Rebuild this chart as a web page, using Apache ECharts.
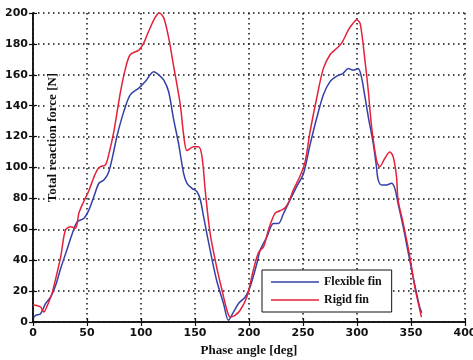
<!DOCTYPE html>
<html>
<head>
<meta charset="utf-8">
<script src="https://cdn.jsdelivr.net/npm/echarts@6/dist/echarts.min.js"></script>
<style>
	html, body { margin: 0; padding: 0; background: #fff; }
	#chart { width: 473px; height: 360px; }
</style>
</head>
<body>
<div id="chart"></div>
<script>
// [phase angle (deg), total reaction force (N)]
const flexibleFin = [
	[ 1, 3 ], [ 2.5, 4.3 ], [ 7, 5.4 ], [ 11.7, 12 ], [ 16.4, 16.2 ], [ 21, 23.8 ], [ 25.6, 34.6 ],
	[ 31.8, 47.6 ], [ 36.4, 57.3 ], [ 41, 64.9 ], [ 47, 67 ], [ 51.7, 72.4 ], [ 56.3, 81 ], [ 61, 89.8 ],
	[ 65.6, 91.9 ], [ 70, 97 ], [ 74, 108 ], [ 78, 121 ], [ 84, 136 ], [ 90, 147 ], [ 98, 151.4 ],
	[ 104, 155.6 ], [ 111.8, 162 ], [ 116.4, 160 ], [ 121, 156.7 ], [ 125.6, 149 ], [ 130, 132 ],
	[ 135, 114.6 ], [ 139.5, 96 ], [ 142.6, 89.8 ], [ 147.2, 86.5 ], [ 151.9, 84.3 ], [ 155, 79 ],
	[ 158, 68 ], [ 164, 46.5 ], [ 170, 27 ], [ 176.4, 12 ], [ 181, 1.1 ], [ 185.7, 6.5 ], [ 190.3, 12 ],
	[ 196.5, 16.2 ], [ 201, 22.7 ], [ 207.3, 37.9 ], [ 210.3, 46.5 ], [ 216.5, 55 ], [ 222.6, 63.8 ],
	[ 227.3, 63.8 ], [ 232, 70.3 ], [ 236.5, 76.8 ], [ 244, 87.5 ], [ 250.4, 96 ], [ 256.5, 114.6 ],
	[ 262.7, 132 ], [ 268.8, 147 ], [ 275, 155.6 ], [ 281, 159 ], [ 287, 161 ], [ 292, 164 ],
	[ 296.5, 163 ], [ 301, 164 ], [ 304, 159 ], [ 307.3, 146 ], [ 310.4, 133 ], [ 315, 115.7 ],
	[ 318, 100.5 ], [ 319.6, 92 ], [ 322.8, 88.7 ], [ 327.4, 88.7 ], [ 332, 89.8 ], [ 335, 86.5 ],
	[ 338, 76.8 ], [ 342.8, 61.6 ], [ 347, 46.5 ], [ 352, 29 ], [ 358, 9.7 ], [ 360, 6 ]
];

const rigidFin = [
	[ 0, 11 ], [ 2.5, 10.8 ], [ 7, 9.7 ], [ 10, 6.5 ], [ 13.3, 10.8 ], [ 16.4, 16.2 ], [ 18, 19.5 ],
	[ 25.6, 42 ], [ 30, 59.5 ], [ 34.8, 61.6 ], [ 39.4, 60.7 ], [ 42.5, 70.5 ], [ 47, 78 ], [ 51.7, 85 ],
	[ 56, 93 ], [ 59.5, 98.4 ], [ 62.5, 100.5 ], [ 67, 101.6 ], [ 70, 108 ], [ 74.8, 123 ], [ 81, 149 ],
	[ 85.6, 164 ], [ 90, 173 ], [ 98, 176 ], [ 102.5, 180.5 ], [ 107, 188 ], [ 113, 197 ], [ 117, 200 ],
	[ 121, 197 ], [ 125.6, 184 ], [ 130, 166.5 ], [ 136.4, 140.5 ], [ 139.5, 121 ], [ 142.6, 111 ],
	[ 148.7, 113.5 ], [ 153.3, 113.5 ], [ 156.5, 107 ], [ 159.5, 85 ], [ 164, 57.3 ], [ 170, 35.7 ],
	[ 175, 20.6 ], [ 179.6, 7.6 ], [ 182.6, 3.2 ], [ 187, 4.3 ], [ 191.8, 7.6 ], [ 198, 16.2 ],
	[ 204, 33.5 ], [ 208.8, 45 ], [ 213.4, 48.6 ], [ 218, 59.5 ], [ 224, 70.3 ], [ 228.8, 72 ],
	[ 233.4, 74 ], [ 237, 78 ], [ 241, 85.4 ], [ 247, 94 ], [ 252, 103.8 ], [ 256.5, 123 ],
	[ 262.7, 145 ], [ 268.8, 164 ], [ 275, 173 ], [ 281, 177 ], [ 285.8, 180.5 ], [ 292, 189 ],
	[ 296, 193 ], [ 299.7, 195.6 ], [ 303, 193 ], [ 307.3, 169.7 ], [ 310.4, 150 ], [ 313.5, 126.5 ],
	[ 318, 105 ], [ 321, 100.5 ], [ 325.8, 106 ], [ 330.4, 110 ], [ 333.5, 107 ], [ 336.6, 94 ],
	[ 338, 79 ], [ 342.8, 63.8 ], [ 349, 42 ], [ 353.5, 22.7 ], [ 359.7, 3.2 ]
];

const seriesNames = [ 'Flexible fin', 'Rigid fin' ];
const seriesColors = [ '#3340a8', '#e4203a' ];

const tickFont = { fontFamily: 'DejaVu Sans', fontWeight: 'bold', fontSize: 11, color: '#111' };
const nameFont = { fontFamily: 'Liberation Serif', fontWeight: 'bold', fontSize: 13, color: '#111' };
const gridDots = { color: '#111', width: 1.5, type: [ 1.5, 3.5 ] };

// plain hidden copy of an axis, used for the top / right frame ticks
const frameAxis = ( base, position ) => Object.assign( {}, base, {
	position: position,
	name: '',
	axisLabel: { show: false },
	splitLine: { show: false }
} );

const xBase = {
	type: 'value',
	min: 0,
	max: 400,
	interval: 50,
	axisLine: { lineStyle: { color: '#111', width: 1.5 } },
	axisTick: { inside: true, length: 4, lineStyle: { color: '#111', width: 1.2 } },
	axisLabel: Object.assign( { margin: 6 }, tickFont ),
	splitLine: { show: true, lineStyle: gridDots },
	name: 'Phase angle [deg]',
	nameLocation: 'middle',
	nameGap: 20,
	nameTextStyle: nameFont
};

// the y name sits inside the plot, raised a bit by an empty spacer before it
const yBase = {
	type: 'value',
	min: 0,
	max: 200,
	interval: 20,
	axisLine: { show: true, lineStyle: { color: '#111', width: 1.5 } },
	axisTick: { show: true, inside: true, length: 4, lineStyle: { color: '#111', width: 1.2 } },
	axisLabel: Object.assign( { margin: 5 }, tickFont ),
	splitLine: { show: true, lineStyle: gridDots },
	name: '{s| }{t|Total reaction force [N]}',
	nameLocation: 'middle',
	nameGap: -26,
	nameTextStyle: {
		rich: {
			s: { width: 60 },
			t: Object.assign( { backgroundColor: '#fff', padding: [ 0, 2 ] }, nameFont )
		}
	}
};

const chart = echarts.init( document.getElementById( 'chart' ) );

chart.setOption( {
	animation: false,
	backgroundColor: '#fff',
	grid: { left: 33, right: 8, top: 13, bottom: 38, outerBoundsMode: 'none' },
	xAxis: [ xBase, frameAxis( xBase, 'top' ) ],
	yAxis: [ yBase, frameAxis( yBase, 'right' ) ],
	legend: {
		orient: 'vertical',
		left: 262,
		top: 270,
		width: 136,
		padding: [ 5, 10, 5, 9 ],
		icon: 'rect',
		itemWidth: 48,
		itemHeight: 1.5,
		itemGap: 4,
		backgroundColor: '#fff',
		borderColor: '#111',
		borderWidth: 1,
		textStyle: Object.assign( {}, nameFont, { fontSize: 12, lineHeight: 14 } ),
		data: seriesNames
	},
	series: [ flexibleFin, rigidFin ].map( ( points, i ) => ( {
		name: seriesNames[ i ],
		type: 'line',
		data: points,
		symbol: 'none',
		smooth: 0.3,
		color: seriesColors[ i ],
		lineStyle: { width: 1.5 },
		z: 3 + i
	} ) )
} );
</script>
</body>
</html>
